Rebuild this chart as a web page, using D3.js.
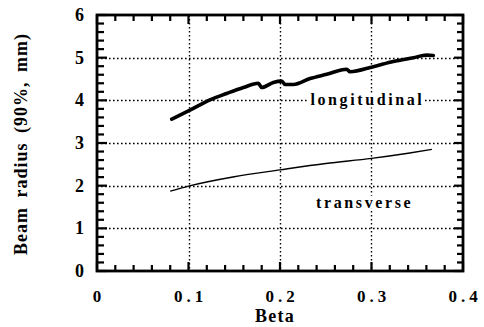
<!DOCTYPE html>
<html>
<head>
<meta charset="utf-8">
<script src="https://cdn.jsdelivr.net/npm/d3@7"></script>
<style>
  html, body { margin: 0; padding: 0; background: #fff; }
  svg { display: block; }
  text { font-family: "Liberation Serif", "DejaVu Serif", serif; font-weight: 700; fill: #000; }
</style>
</head>
<body>
<svg id="chart" width="484" height="327" xmlns="http://www.w3.org/2000/svg"></svg>
<script>
// Beam radius (90%) versus beta
const longitudinalBeta = [0.0816, 0.1016, 0.1235, 0.1417, 0.160, 0.1763, 0.180, 0.1927, 0.2018, 0.2055, 0.2146, 0.2328, 0.251, 0.2729, 0.2765, 0.302, 0.3238, 0.3457, 0.3603, 0.3675];
const longitudinalR    = [3.56, 3.77, 4.01, 4.16, 4.30, 4.40, 4.30, 4.42, 4.45, 4.37, 4.37, 4.51, 4.61, 4.73, 4.67, 4.79, 4.91, 5.00, 5.06, 5.05];
const transverseBeta   = [0.080, 0.100, 0.150, 0.200, 0.250, 0.300, 0.340, 0.366];
const transverseR      = [1.87, 1.99, 2.21, 2.37, 2.52, 2.64, 2.76, 2.85];
const xTicks = [0, 0.1, 0.2, 0.3, 0.4];
const xTickLabels = ["0", "0.1", "0.2", "0.3", "0.4"];
const yTicks = [0, 1, 2, 3, 4, 5, 6];
const seriesLabels = ["longitudinal", "transverse"];

const svg = d3.select("#chart");
const m = { left: 97, right: 463, top: 15, bottom: 271 };

const x = d3.scaleLinear().domain([0, 0.4]).range([m.left, m.right]);
const y = d3.scaleLinear().domain([0, 6]).range([m.bottom, m.top]);

// dotted grid
const grid = svg.append("g").attr("stroke", "#000").attr("stroke-width", 1.4)
  .attr("stroke-dasharray", "1.6,2.4");
grid.selectAll("line.gx").data(xTicks.slice(1, -1)).join("line").attr("class", "gx")
  .attr("x1", d => Math.round(x(d)) + 0.5).attr("x2", d => Math.round(x(d)) + 0.5)
  .attr("y1", m.top).attr("y2", m.bottom);
grid.selectAll("line.gy").data(yTicks.slice(1, -1)).join("line").attr("class", "gy")
  .attr("y1", d => Math.round(y(d)) + 0.5).attr("y2", d => Math.round(y(d)) + 0.5)
  .attr("x1", m.left).attr("x2", m.right);

// series labels on white background
const labelData = [
  { text: seriesLabels[0], cx: 0.2955, cy: 4.0 },
  { text: seriesLabels[1], cx: 0.2925, cy: 1.6 }
];
labelData.forEach(l => {
  const t = svg.append("text")
    .attr("x", x(l.cx)).attr("y", y(l.cy) + 5)
    .attr("text-anchor", "middle").attr("font-size", 16)
    .attr("letter-spacing", 2.6)
    .text(l.text);
  const b = t.node().getBBox();
  svg.insert("rect", "text").attr("x", b.x - 2).attr("y", b.y + 2)
    .attr("width", b.width + 1).attr("height", b.height - 4).attr("fill", "#fff");
});

// inward ticks on all four sides as small filled bars:
// minor every 0.02 / 0.2, major every 0.1 / 1
const xAll = d3.range(0, 21).map(i => i * 0.02);
const yAll = d3.range(0, 31).map(i => i * 0.2);
const majX = d => Math.abs(d * 10 - Math.round(d * 10)) < 1e-6;
const majY = d => Math.abs(d - Math.round(d)) < 1e-6;
const tw = 2.2;
const ticks = svg.append("g").attr("fill", "#000");
ticks.selectAll("rect.tb").data(xAll).join("rect").attr("class", "tb")
  .attr("x", d => x(d) - tw / 2).attr("width", tw)
  .attr("y", d => m.bottom - (majX(d) ? 9 : 6)).attr("height", d => majX(d) ? 9 : 6);
ticks.selectAll("rect.tt").data(xAll).join("rect").attr("class", "tt")
  .attr("x", d => x(d) - tw / 2).attr("width", tw)
  .attr("y", m.top).attr("height", d => majX(d) ? 9 : 6);
ticks.selectAll("rect.tl").data(yAll).join("rect").attr("class", "tl")
  .attr("y", d => y(d) - tw / 2).attr("height", tw)
  .attr("x", m.left).attr("width", d => majY(d) ? 10 : 7);
ticks.selectAll("rect.tr").data(yAll).join("rect").attr("class", "tr")
  .attr("y", d => y(d) - tw / 2).attr("height", tw)
  .attr("x", d => m.right - (majY(d) ? 9 : 6)).attr("width", d => majY(d) ? 9 : 6);

// frame
svg.append("rect").attr("x", m.left).attr("y", m.top)
  .attr("width", m.right - m.left).attr("height", m.bottom - m.top)
  .attr("fill", "none").attr("stroke", "#000").attr("stroke-width", 2.8);

// data lines
const line = d3.line().x(d => x(d[0])).y(d => y(d[1])).curve(d3.curveMonotoneX);
svg.append("path")
  .datum(d3.zip(longitudinalBeta, longitudinalR))
  .attr("d", line).attr("fill", "none").attr("stroke", "#000")
  .attr("stroke-width", 3.6).attr("stroke-linejoin", "round").attr("stroke-linecap", "round");
svg.append("path")
  .datum(d3.zip(transverseBeta, transverseR))
  .attr("d", line).attr("fill", "none").attr("stroke", "#000")
  .attr("stroke-width", 1.4);

// tick labels
svg.append("g").selectAll("text").data(xTicks).join("text")
  .attr("x", d => x(d) + 2).attr("y", 302)
  .attr("text-anchor", "middle").attr("font-size", 17).attr("letter-spacing", 4)
  .text((d, i) => xTickLabels[i]);
svg.append("g").selectAll("text").data(yTicks).join("text")
  .attr("x", 84).attr("y", d => y(d) + 6)
  .attr("text-anchor", "end").attr("font-size", 18)
  .text(d => d);

// axis titles
svg.append("text").attr("x", 275).attr("y", 322)
  .attr("text-anchor", "middle").attr("font-size", 18).attr("letter-spacing", 1.2).text("Beta");
svg.append("text")
  .attr("transform", `translate(27,${144}) rotate(-90)`)
  .attr("text-anchor", "middle").attr("font-size", 18).attr("letter-spacing", 1)
  .attr("word-spacing", 4)
  .text("Beam radius (90%, mm)");
</script>
</body>
</html>
